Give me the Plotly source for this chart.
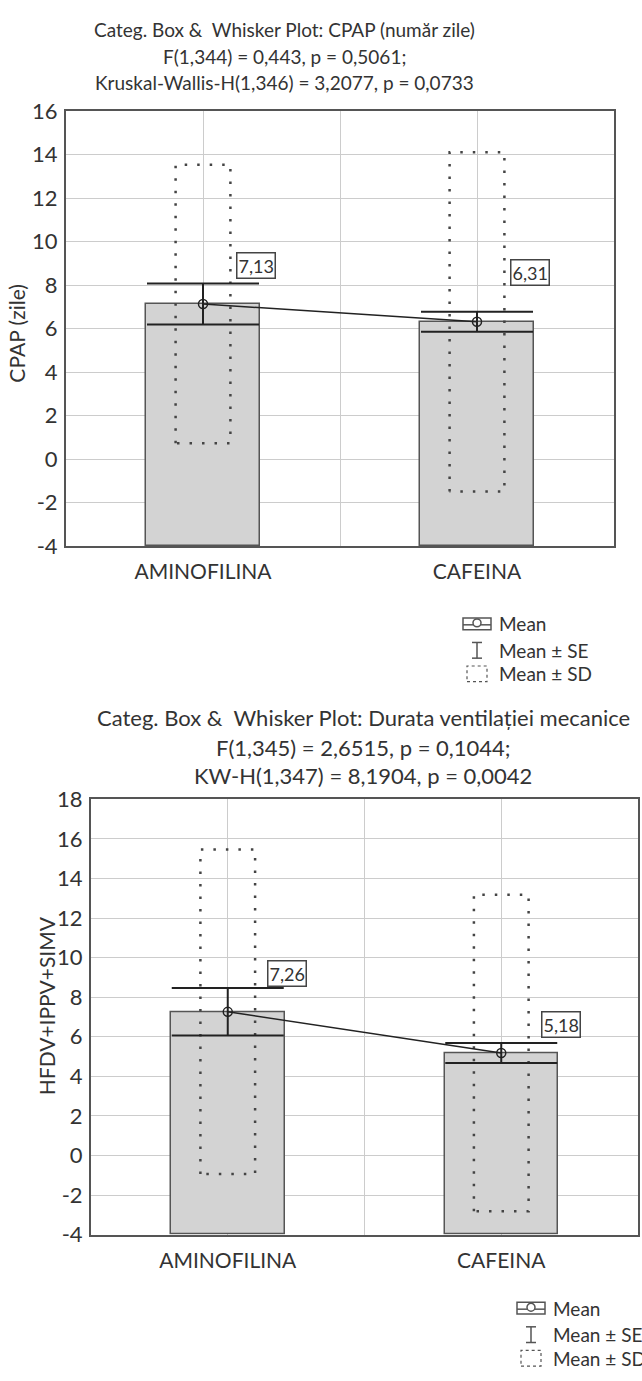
import plotly.graph_objects as go

W, H = 642, 1381

# ---------------- data ----------------
categories = ["AMINOFILINA", "CAFEINA"]

cpap_mean = [7.13, 6.31]
cpap_se = [0.94, 0.46]
cpap_sd = [6.40, 7.80]
cpap_labels = ["7,13", "6,31"]
cpap_label_y = [8.9, 8.6]
cpap_yticks = [-4, -2, 0, 2, 4, 6, 8, 10, 12, 14, 16]

vent_mean = [7.26, 5.18]
vent_se = [1.20, 0.50]
vent_sd = [8.20, 8.00]
vent_labels = ["7,26", "5,18"]
vent_label_y = [9.2, 6.6]
vent_yticks = [-4, -2, 0, 2, 4, 6, 8, 10, 12, 14, 16, 18]

cpap_title = ["Categ. Box &  Whisker Plot: CPAP (număr zile)",
              "F(1,344) = 0,443, p = 0,5061;",
              "Kruskal-Wallis-H(1,346) = 3,2077, p = 0,0733"]
vent_title = ["Categ. Box &  Whisker Plot: Durata ventilației mecanice",
              "F(1,345) = 2,6515, p = 0,1044;",
              "KW-H(1,347) = 8,1904, p = 0,0042"]
cpap_ytitle = "CPAP (zile)"
vent_ytitle = "HFDV+IPPV+SIMV"
legend_items = ["Mean", "Mean ± SE", "Mean ± SD"]

# ---------------- style ----------------
FONT = "Lato"
TXT = "#333333"
BAR_FILL = "#d3d3d3"
BAR_LINE = "#555555"
GRID = "#cccccc"
FRAME = "#555555"


def px(x):
    return x / W


def py(y):
    return 1 - y / H


fig = go.Figure()
annotations = []
shapes = []


def panel(idx, mean, se, sd, labels, label_y, yticks, box, label_dx,
          titles, title_cx, title_ys, title_size, ytitle, ytitle_xy,
          legend_xy):
    ax = "" if idx == 1 else str(idx)
    xa, ya = "x" + ax, "y" + ax
    ymin, ymax = yticks[0], yticks[-1]
    xs = list(range(len(categories)))
    left, top, right, bottom = box

    # bars from the bottom of the axis up to the mean
    fig.add_trace(go.Bar(
        x=xs, y=[m - ymin for m in mean], base=ymin, width=0.415,
        marker=dict(color=BAR_FILL, line=dict(color=BAR_LINE, width=1.5)),
        xaxis=xa, yaxis=ya, showlegend=False, hoverinfo="skip"))

    # mean +/- SD dotted boxes
    bx, by = [], []
    for i, (m, s) in enumerate(zip(mean, sd)):
        bx += [i - 0.1, i - 0.1, i + 0.1, i + 0.1, i - 0.1, None]
        by += [m - s, m + s, m + s, m - s, m - s, None]
    fig.add_trace(go.Scatter(
        x=bx, y=by, mode="lines",
        line=dict(color="#444444", width=2.5, dash="2.5px,10px"),
        xaxis=xa, yaxis=ya, showlegend=False, hoverinfo="skip"))

    # means with SE whiskers and connecting line
    fig.add_trace(go.Scatter(
        x=xs, y=mean, mode="lines+markers",
        line=dict(color="#222222", width=1.5),
        marker=dict(symbol="circle-open", size=9, color="#222222",
                    line=dict(width=1.5)),
        error_y=dict(type="data", array=se, visible=True, color="#222222",
                     thickness=2, width=56),
        xaxis=xa, yaxis=ya, showlegend=False, hoverinfo="skip"))

    # value labels
    for i, (t, ly) in enumerate(zip(labels, label_y)):
        annotations.append(dict(
            x=i + label_dx, y=ly, xref=xa, yref=ya, text=t, showarrow=False,
            xanchor="left", yanchor="middle",
            font=dict(family=FONT, size=18, color=TXT),
            bordercolor="#444444", borderwidth=1.5, borderpad=1,
            bgcolor="white"))

    # axes
    fig.update_layout(**{
        "xaxis" + ax: dict(
            domain=[px(left), px(right)], range=[-0.5, 1.5],
            tickvals=[0, 0.5, 1], ticktext=[categories[0], "", categories[1]],
            showgrid=True, gridcolor=GRID, gridwidth=1, zeroline=False,
            showline=True, mirror=True, linecolor=FRAME, linewidth=2,
            ticks="outside", ticklen=6, tickcolor="rgba(0,0,0,0)",
            tickfont=dict(family=FONT, size=21, color=TXT), anchor=ya),
        "yaxis" + ax: dict(
            domain=[py(bottom), py(top)], range=[ymin, ymax],
            tickvals=yticks, ticktext=[str(t) for t in yticks],
            showgrid=True, gridcolor=GRID, gridwidth=1, zeroline=False,
            showline=True, mirror=True, linecolor=FRAME, linewidth=2,
            ticks="outside", ticklen=2, tickcolor="rgba(0,0,0,0)",
            tickfont=dict(family=FONT, size=22, color=TXT), anchor=xa),
    })

    # titles
    for t, ty in zip(titles, title_ys):
        annotations.append(dict(
            x=px(title_cx), y=py(ty), xref="paper", yref="paper", text=t,
            showarrow=False, xanchor="center", yanchor="middle",
            font=dict(family=FONT, size=title_size, color=TXT)))

    annotations.append(dict(
        x=px(ytitle_xy[0]), y=py(ytitle_xy[1]), xref="paper", yref="paper",
        text=ytitle, textangle=-90, showarrow=False,
        xanchor="center", yanchor="middle",
        font=dict(family=FONT, size=21, color=TXT)))

    # legend (drawn)
    lx, ly0 = legend_xy
    rows = [ly0, ly0 + 27, ly0 + 51]
    for t, ry in zip(legend_items, rows):
        annotations.append(dict(
            x=px(lx + 34), y=py(ry), xref="paper", yref="paper", text=t,
            showarrow=False, xanchor="left", yanchor="middle",
            font=dict(family=FONT, size=19, color=TXT)))
    c = "#555555"
    # Mean icon
    shapes.append(dict(type="rect", xref="paper", yref="paper",
                       x0=px(lx), x1=px(lx + 28), y0=py(rows[0] + 6),
                       y1=py(rows[0] - 6), line=dict(color=c, width=1.5)))
    shapes.append(dict(type="line", xref="paper", yref="paper",
                       x0=px(lx), x1=px(lx + 28), y0=py(rows[0] + 1),
                       y1=py(rows[0] + 1), line=dict(color=c, width=1.5)))
    shapes.append(dict(type="circle", xref="paper", yref="paper",
                       x0=px(lx + 10), x1=px(lx + 18), y0=py(rows[0] + 3),
                       y1=py(rows[0] - 5), line=dict(color=c, width=1.5),
                       fillcolor="white"))
    # SE icon
    cx = lx + 14
    shapes.append(dict(type="line", xref="paper", yref="paper",
                       x0=px(cx), x1=px(cx), y0=py(rows[1] - 8),
                       y1=py(rows[1] + 8), line=dict(color=c, width=1.5)))
    for yy in (rows[1] - 8, rows[1] + 8):
        shapes.append(dict(type="line", xref="paper", yref="paper",
                           x0=px(cx - 5), x1=px(cx + 5), y0=py(yy), y1=py(yy),
                           line=dict(color=c, width=1.5)))
    # SD icon
    shapes.append(dict(type="rect", xref="paper", yref="paper",
                       x0=px(lx + 4), x1=px(lx + 24), y0=py(rows[2] + 8),
                       y1=py(rows[2] - 8),
                       line=dict(color=c, width=1.2, dash="dot")))


panel(1, cpap_mean, cpap_se, cpap_sd, cpap_labels, cpap_label_y, cpap_yticks,
      box=(66, 99, 614, 542.7), label_dx=0.12,
      titles=cpap_title, title_cx=284, title_ys=[16, 43, 70], title_size=19,
      ytitle=cpap_ytitle, ytitle_xy=(17, 326), legend_xy=(463, 622))

panel(2, vent_mean, vent_se, vent_sd, vent_labels, vent_label_y, vent_yticks,
      box=(91, 801, 638, 1245), label_dx=0.145,
      titles=vent_title, title_cx=363, title_ys=[718, 748, 777], title_size=22,
      ytitle=vent_ytitle, ytitle_xy=(46, 1011), legend_xy=(517, 1320))

fig.update_layout(
    width=W, height=H, margin=dict(l=0, r=0, t=0, b=0),
    paper_bgcolor="white", plot_bgcolor="white",
    showlegend=False, bargap=0,
    annotations=annotations, shapes=shapes,
    font=dict(family=FONT, color=TXT),
)

fig.write_html("out.html", config={"displayModeBar": False},
               post_script="document.body.style.margin='0';")
